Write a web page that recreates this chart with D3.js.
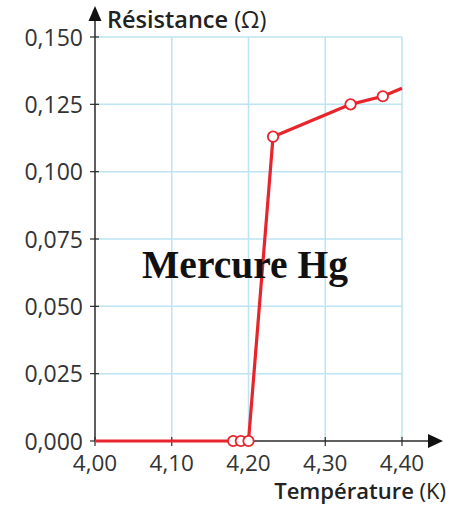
<!DOCTYPE html>
<html><head><meta charset="utf-8">
<script src="https://cdn.jsdelivr.net/npm/d3@7"></script>
<style>html,body{margin:0;padding:0;background:#fff;}svg{display:block;}</style>
</head><body>
<svg id="c" width="453" height="506"></svg>
<script>
const temperatures = [4.00, 4.18, 4.19, 4.20, 4.232, 4.333, 4.375, 4.40];
const resistances  = [0.000, 0.000, 0.000, 0.000, 0.113, 0.125, 0.128, 0.131];
const marked       = [false, true, true, true, true, true, true, false];
const xTicks = [4.00, 4.10, 4.20, 4.30, 4.40];
const yTicks = [0.000, 0.025, 0.050, 0.075, 0.100, 0.125, 0.150];
const xTitle = ["Température", " (K)"];
const yTitle = ["Résistance", " (Ω)"];
const label = "Mercure Hg";

const svg = d3.select("#c");
const x = d3.scaleLinear().domain([4.0, 4.4]).range([95, 402]);
const y = d3.scaleLinear().domain([0, 0.15]).range([441, 37]);
const fmtX = d => d3.format(".2f")(d).replace(".", ",");
const fmtY = d => d3.format(".3f")(d).replace(".", ",");
const font = "'Open Sans', 'Noto Sans', sans-serif";
const grid = "#bde3f4";
const red = "#e8242c";
const axisC = "#2a2a2a";

// grid
svg.append("g").selectAll("line").data(xTicks.slice(1)).join("line")
  .attr("x1", d => x(d)).attr("x2", d => x(d)).attr("y1", y(0.15)).attr("y2", y(0))
  .attr("stroke", grid).attr("stroke-width", 1.5);
svg.append("g").selectAll("line").data(yTicks.slice(1)).join("line")
  .attr("x1", x(4.0)).attr("x2", x(4.4)).attr("y1", d => y(d)).attr("y2", d => y(d))
  .attr("stroke", grid).attr("stroke-width", 1.5);

// axes lines with arrows
svg.append("line").attr("x1", x(4.0)).attr("x2", 430).attr("y1", y(0)).attr("y2", y(0))
  .attr("stroke", axisC).attr("stroke-width", 1.5);
svg.append("path").attr("d", `M428,${y(0)-7}L443,${y(0)}L428,${y(0)+7}Z`).attr("fill", "#111");
svg.append("line").attr("x1", x(4.0)).attr("x2", x(4.0)).attr("y1", y(0)).attr("y2", 18)
  .attr("stroke", axisC).attr("stroke-width", 1.5);
svg.append("path").attr("d", `M${x(4.0)-6.5},21L${x(4.0)},6L${x(4.0)+6.5},21Z`).attr("fill", "#111");

// ticks
svg.append("g").selectAll("line").data(xTicks).join("line")
  .attr("x1", d => x(d)).attr("x2", d => x(d)).attr("y1", y(0) - 4).attr("y2", y(0) + 5)
  .attr("stroke", axisC).attr("stroke-width", 1.2);
svg.append("g").selectAll("line").data(yTicks).join("line")
  .attr("x1", x(4.0) - 5).attr("x2", x(4.0) + 4).attr("y1", d => y(d)).attr("y2", d => y(d))
  .attr("stroke", axisC).attr("stroke-width", 1.2);

// tick labels
svg.append("g").selectAll("text").data(xTicks).join("text")
  .attr("x", d => x(d)).attr("y", 471).attr("text-anchor", "middle")
  .attr("font-family", font).attr("font-size", 22.5).attr("fill", "#333")
  .text(fmtX);
svg.append("g").selectAll("text").data(yTicks).join("text")
  .attr("x", 83).attr("y", d => y(d) + 8.5).attr("text-anchor", "end")
  .attr("font-family", font).attr("font-size", 23).attr("fill", "#333")
  .text(fmtY);

// axis titles
const yt = svg.append("text").attr("x", 107).attr("y", 28)
  .attr("font-family", font).attr("font-size", 23.5).attr("fill", "#222");
yt.append("tspan").attr("font-weight", 600).text(yTitle[0]);
yt.append("tspan").attr("font-weight", 400).text(yTitle[1]);
const xt = svg.append("text").attr("x", 446).attr("y", 499).attr("text-anchor", "end")
  .attr("font-family", font).attr("font-size", 22).attr("fill", "#222");
xt.append("tspan").attr("font-weight", 600).text(xTitle[0]);
xt.append("tspan").attr("font-weight", 400).text(xTitle[1]);

// data line
const pts = temperatures.map((t, i) => ({t, r: resistances[i], m: marked[i]}));
svg.append("path").datum(pts)
  .attr("d", d3.line().x(d => x(d.t)).y(d => y(d.r)))
  .attr("fill", "none").attr("stroke", red).attr("stroke-width", 3.2)
  .attr("stroke-linejoin", "round");

// label
svg.append("text").attr("x", 245).attr("y", 278).attr("text-anchor", "middle")
  .attr("font-family", "'Liberation Serif', 'Times New Roman', serif")
  .attr("font-weight", "bold").attr("font-size", 39.5).attr("fill", "#111")
  .text(label);

// markers
svg.append("g").selectAll("circle").data(pts.filter(d => d.m)).join("circle")
  .attr("cx", d => x(d.t)).attr("cy", d => y(d.r)).attr("r", 5.2)
  .attr("fill", "#fff").attr("stroke", red).attr("stroke-width", 1.8);
</script>
</body></html>
